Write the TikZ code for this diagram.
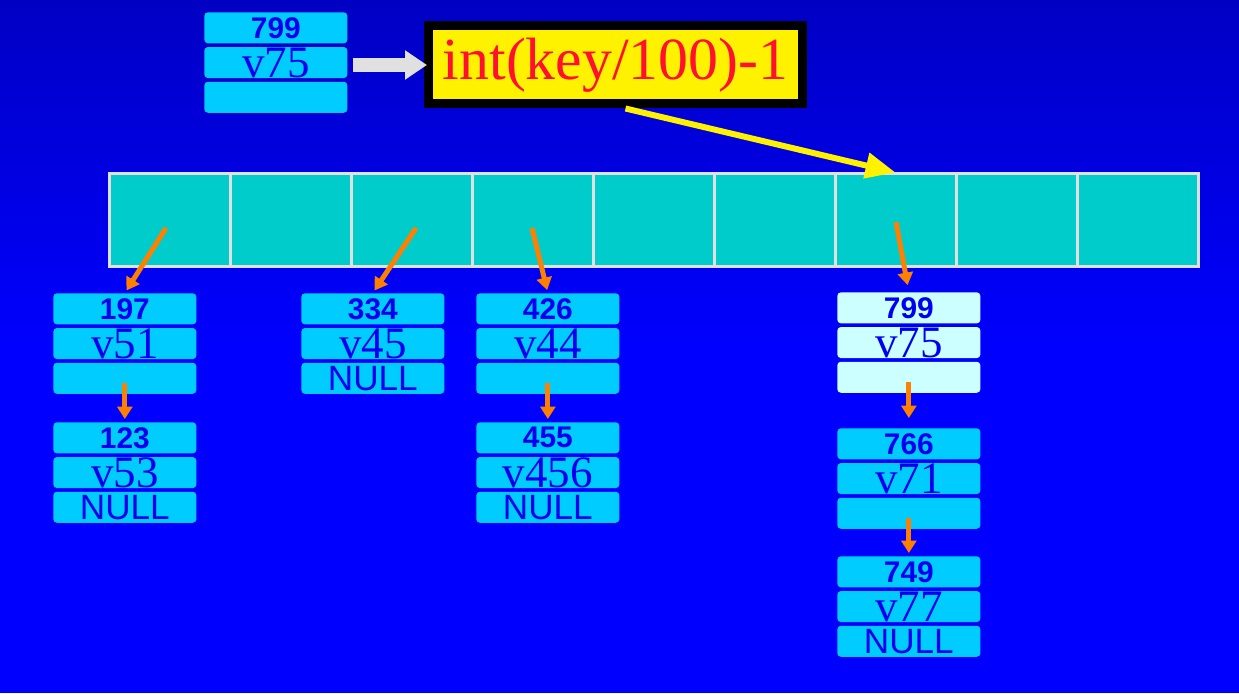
\documentclass[tikz,border=0pt]{standalone}
\usepackage{fontspec}
\setmainfont{Liberation Serif}
\setsansfont{Liberation Sans}
\usetikzlibrary{arrows.meta,positioning}
\definecolor{bgtop}{HTML}{0000C4}
\definecolor{bgbot}{HTML}{0000FF}
\definecolor{cellcyan}{HTML}{00CCCC}
\definecolor{rowcyan}{HTML}{00CCFF}
\definecolor{rowpale}{HTML}{CCFFFF}
\definecolor{edgegray}{HTML}{E0E0E0}
\definecolor{inkblue}{HTML}{0000F0}
\definecolor{ptrorange}{HTML}{FF8000}
\definecolor{fxred}{HTML}{FF1030}
\newcommand{\reckeyfont}{\sffamily\bfseries\fontsize{17}{17}\selectfont}
\newcommand{\recvalfont}{\fontsize{25.6}{26}\selectfont}
\newcommand{\recnullfont}{\sffamily\fontsize{20}{20}\selectfont}
% one list record: name, x, y, fill, key, value, next
\newcommand{\listrec}[7]{%
  \node[recrow,fill=#4,font=\reckeyfont,anchor=north west] (k#1) at (#2,#3) {#5};
  \node[recrow,fill=#4,font=\recvalfont,below=of k#1] (v#1) {#6};
  \node[recrow,fill=#4,font=\recnullfont,below=of v#1] (n#1) {#7};}

\begin{document}
\begin{tikzpicture}[x=1cm,y=1cm,node distance=0.06cm,
  recrow/.style={rounded corners=2pt,minimum width=2.86cm,minimum height=0.62cm,inner sep=0pt,text=inkblue},
  cell/.style={draw=edgegray,line width=0.06cm,fill=cellcyan,minimum width=2.42cm,minimum height=1.84cm,inner sep=0pt},
  ptr/.style={ptrorange,line width=0.1cm,shorten >=0.06cm,-{Triangle[length=0.25cm,width=0.3cm]}}]
\fill[bgbot] (0,0) rectangle (24.78,-13.86);
\shade[top color=bgtop,bottom color=bgbot] (0,0) rectangle (24.78,-7);

% key being looked up
\listrec{A}{4.08}{-0.24}{rowcyan}{799}{v75}{}
\node[draw=black,line width=0.18cm,fill=yellow,minimum width=7.48cm,minimum height=1.56cm,
  inner sep=0pt,text=fxred,font=\fontsize{34}{34}\selectfont] (fx) at (12.31,-1.3) {int(key/100)-1};
\draw[edgegray,line width=0.28cm,-{Triangle[length=0.44cm,width=0.56cm]}]
  (vA.east |- fx.west) ++(0.1,0) -- ([xshift=0.06cm]fx.west);

% bucket array
\foreach \i in {0,...,8}
  \node[cell] (c\i) at (3.39+2.42*\i,-4.4) {};
\draw[yellow,line width=0.12cm,-{Triangle[length=0.6cm,width=0.5cm]}]
  ([xshift=0.2cm]fx.south) -- (c6.north);

% chains
\listrec{1}{1.06}{-5.86}{rowcyan}{197}{v51}{}
\listrec{2}{1.06}{-8.44}{rowcyan}{123}{v53}{NULL}
\listrec{3}{6.02}{-5.86}{rowcyan}{334}{v45}{NULL}
\listrec{4}{9.52}{-5.86}{rowcyan}{426}{v44}{}
\listrec{5}{9.52}{-8.44}{rowcyan}{455}{v456}{NULL}
\listrec{6}{16.74}{-5.84}{rowpale}{799}{v75}{}
\listrec{7}{16.74}{-8.56}{rowcyan}{766}{v71}{}
\listrec{8}{16.74}{-11.12}{rowcyan}{749}{v77}{NULL}

\draw[ptr] ([shift={(-0.07,-0.16)}]c0.center) -- (k1.north);
\draw[ptr] ([shift={(0.09,-0.16)}]c2.center) -- (k3.north);
\draw[ptr] ([shift={(-0.01,-0.16)}]c3.center) -- (k4.north);
\draw[ptr,shorten >=0.14cm] ([shift={(0.01,-0.04)}]c6.center) -- (k6.north);
\draw[ptr] ([yshift=-0.1cm]n1.center) -- (k2.north);
\draw[ptr] ([yshift=-0.1cm]n4.center) -- (k5.north);
\draw[ptr,shorten >=0.2cm] ([yshift=-0.1cm]n6.center) -- (k7.north);
\draw[ptr] ([yshift=-0.1cm]n7.center) -- (k8.north);
\end{tikzpicture}
\end{document}
